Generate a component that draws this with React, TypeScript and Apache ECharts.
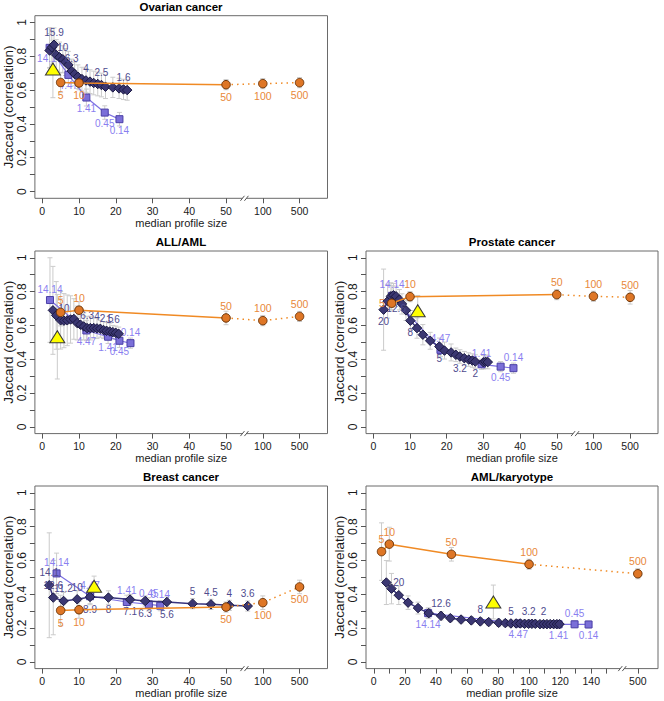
import React, { useEffect, useRef } from "react";
import * as echarts from "echarts";

const FONT = "'Liberation Sans', Arial, Helvetica, sans-serif";

// ---------- shared ----------
const orangeSizes = [5, 10, 50, 100, 500];
const orangeLabels = ["5", "10", "50", "100", "500"];
const yTicks = [0, 0.1, 0.2, 0.3, 0.4, 0.5, 0.6, 0.7, 0.8, 0.9, 1];
const yTickLabels = [0, 0.2, 0.4, 0.6, 0.8, 1];
const xTicksA = [0, 10, 20, 30, 40, 50, 60, 70];
const xTickTextA = ["0", "10", "20", "30", "40", "50", "100", "500"];
const xTicksB = [0, 10, 20, 30, 40, 50, 60, 70, 80, 90, 100, 110, 120, 130, 140, 150, 170];
const xLabelsB = [0, 20, 40, 60, 80, 100, 120, 140, 170];
const xTickTextB = ["0", "20", "40", "60", "80", "100", "120", "140", "500"];

// ---------- Ovarian cancer ----------
const ovDiamondX = [2.0, 2.6, 3.2, 3.8, 4.7, 5.6, 6.3, 7.1, 8.0, 8.8, 9.7, 10.8, 11.9, 13.0, 14.0, 15.1, 16.1, 17.2, 19.2, 20.9, 22.1, 23.1];
const ovDiamondY = [0.834, 0.853, 0.868, 0.808, 0.794, 0.782, 0.766, 0.749, 0.713, 0.695, 0.679, 0.665, 0.657, 0.65, 0.642, 0.636, 0.63, 0.62, 0.616, 0.61, 0.604, 0.6];
const ovDiamondErr = [0.1, 0.1, 0.1, 0.09, 0.09, 0.08, 0.08, 0.08, 0.07, 0.07, 0.07, 0.07, 0.07, 0.07, 0.07, 0.07, 0.07, 0.07, 0.06, 0.06, 0.06, 0.06];
const ovDiamondLab = ["", "", "15.9", "", "", "10", "", "", "6.3", "", "", "", "4", "", "", "", "2.5", "", "", "", "1.6", ""];
const ovDiamondPos = "tttttttttttttttttttttt";
const ovSquareX = [2.0, 7.1, 12.0, 17.0, 21.0];
const ovSquareY = [0.85, 0.69, 0.556, 0.467, 0.428];
const ovSquareErr = [0.12, 0.07, 0.05, 0.04, 0.04];
const ovSquareLab = ["14.14", "4.47", "1.41", "0.45", "0.14"];
const ovSquarePos = "bbbbb";
const ovOrangeY = [0.645, 0.642, 0.632, 0.638, 0.644];
const ovOrangeErr = [0.06, 0.04, 0.03, 0.03, 0.03];
const ovOrangePos = "bbbbb";
const ovTriangle = [2.9, 0.725, 0.17];

// ---------- ALL/AML ----------
const allDiamondX = [2.9, 3.8, 5.0, 5.9, 6.8, 7.7, 8.6, 9.5, 10.4, 11.3, 12.2, 13.1, 14.0, 14.9, 15.8, 16.7, 17.5, 18.4, 19.2, 20.0, 20.8];
const allDiamondY = [0.689, 0.659, 0.63, 0.628, 0.63, 0.635, 0.638, 0.614, 0.604, 0.594, 0.584, 0.584, 0.584, 0.582, 0.58, 0.572, 0.568, 0.564, 0.56, 0.556, 0.55];
const allDiamondErr = [0.26, 0.2, 0.17, 0.16, 0.15, 0.14, 0.12, 0.1, 0.09, 0.08, 0.07, 0.07, 0.06, 0.06, 0.05, 0.05, 0.05, 0.05, 0.04, 0.04, 0.04];
const allDiamondLab = ["", "", "", "10", "", "", "", "", "", "", "6.3", "", "", "4", "", "", "2.5", "", "1.6", "", ""];
const allDiamondPos = "ttttttttttttttttttttt";
const allSquareX = [2.1, 12.0, 17.9, 21.0, 24.0];
const allSquareY = [0.75, 0.57, 0.533, 0.509, 0.495];
const allSquareErr = [0.25, 0.06, 0.04, 0.04, 0.03];
const allSquareLab = ["14.14", "4.47", "1.41", "0.45", "0.14"];
const allSquarePos = "tbbbt";
const allOrangeY = [0.677, 0.69, 0.644, 0.628, 0.653];
const allOrangeErr = [0.08, 0.05, 0.04, 0.03, 0.03];
const allOrangePos = "ttttt";
const allTriangle = [4.1, 0.533, 0.25];

// ---------- Prostate cancer ----------
const proDiamondX = [2.8, 3.9, 4.8, 5.5, 6.2, 7.1, 7.8, 8.9, 10.1, 11.9, 13.5, 15.5, 18.0, 19.4, 21.2, 22.5, 23.6, 24.8, 26.0, 27.0, 27.8, 30.0, 30.6, 31.2];
const proDiamondY = [0.693, 0.743, 0.772, 0.778, 0.772, 0.752, 0.727, 0.689, 0.628, 0.584, 0.545, 0.509, 0.475, 0.451, 0.44, 0.426, 0.416, 0.406, 0.398, 0.392, 0.386, 0.382, 0.385, 0.383];
const proDiamondErr = [0.24, 0.1, 0.08, 0.07, 0.06, 0.06, 0.06, 0.06, 0.06, 0.06, 0.06, 0.05, 0.05, 0.05, 0.05, 0.04, 0.04, 0.04, 0.04, 0.04, 0.04, 0.04, 0.04, 0.04];
const proDiamondLab = ["20", "", "", "", "12.6", "", "", "", "8", "", "", "", "5", "", "", "", "3.2", "", "", "", "2", "", "", ""];
const proDiamondPos = "bbbbbbbbbbbbbbbbbbbbbbbb";
const proSquareX = [5.1, 18.3, 29.5, 34.7, 38.2];
const proSquareY = [0.775, 0.455, 0.37, 0.356, 0.347];
const proSquareErr = [0.06, 0.04, 0.03, 0.03, 0.03];
const proSquareLab = ["14.14", "4.47", "1.41", "0.45", "0.14"];
const proSquarePos = "tttbt";
const proOrangeY = [0.731, 0.77, 0.782, 0.772, 0.766];
const proOrangeErr = [0.04, 0.03, 0.03, 0.03, 0.04];
const proOrangePos = "ltttt";
const proTriangle = [12.1, 0.687, 0.09];

// ---------- Breast cancer ----------
const brDiamondX = [1.9, 3.0, 5.8, 9.5, 13.0, 18.0, 23.9, 28.0, 33.9, 40.9, 45.9, 50.9, 55.9];
const brDiamondY = [0.453, 0.38, 0.36, 0.37, 0.384, 0.38, 0.368, 0.36, 0.354, 0.344, 0.34, 0.334, 0.33];
const brDiamondErr = [0.31, 0.22, 0.05, 0.05, 0.04, 0.04, 0.03, 0.03, 0.03, 0.03, 0.03, 0.03, 0.03];
const brDiamondLab = ["14.1", "12.6", "11.2", "10", "8.9", "8", "7.1", "6.3", "5.6", "5", "4.5", "4", "3.6"];
const brDiamondPos = "ttttbbbbbtttt";
const brSquareX = [3.9, 13.0, 23.0, 29.0, 32.1];
const brSquareY = [0.523, 0.388, 0.354, 0.34, 0.332];
const brSquareErr = [0.12, 0.05, 0.04, 0.04, 0.03];
const brSquareLab = ["14.14", "4.47", "1.41", "0.45", "0.14"];
const brSquarePos = "ttttt";
const brOrangeY = [0.304, 0.308, 0.324, 0.35, 0.443];
const brOrangeErr = [0.09, 0.05, 0.03, 0.04, 0.04];
const brOrangePos = "bbbbb";
const brTriangle = [14.1, 0.447, 0.06];

// ---------- AML/karyotype ----------
const karDiamondX = [8.1, 11.4, 16.1, 22.1, 28.5, 35.4, 43.3, 49.3, 56.2, 62.8, 68.6, 74.0, 80.4, 84.7, 88.3, 91.7, 94.3, 97.1, 99.7, 101.8, 104.0, 107.0, 109.3, 111.5, 113.6, 115.8, 117.9, 119.6];
const karDiamondY = [0.469, 0.433, 0.394, 0.35, 0.318, 0.288, 0.272, 0.258, 0.25, 0.245, 0.239, 0.235, 0.231, 0.229, 0.227, 0.227, 0.227, 0.225, 0.225, 0.225, 0.225, 0.223, 0.223, 0.223, 0.223, 0.223, 0.223, 0.223];
const karDiamondErr = [0.13, 0.09, 0.055, 0.04, 0.035, 0.03, 0.025, 0.02, 0.02, 0.02, 0.02, 0.02, 0.02, 0.02, 0.02, 0.02, 0.02, 0.02, 0.02, 0.02, 0.02, 0.02, 0.02, 0.02, 0.02, 0.02, 0.02, 0.02];
const karDiamondLab = ["", "", "20", "", "", "", "12.6", "", "", "", "8", "", "", "", "5", "", "", "", "3.2", "", "", "", "2", "", "", "", "", ""];
const karDiamondPos = "tttttttttttttttttttttttttttt";
const karSquareX = [35.0, 93.0, 119.0, 129.3, 138.3];
const karSquareY = [0.288, 0.227, 0.222, 0.222, 0.221];
const karSquareErr = [0.03, 0.02, 0.02, 0.02, 0.02];
const karSquareLab = ["14.14", "4.47", "1.41", "0.45", "0.14"];
const karSquarePos = "bbbtb";
const karOrangeY = [0.652, 0.696, 0.636, 0.577, 0.521];
const karOrangeErr = [0.17, 0.1, 0.04, 0.03, 0.03];
const karOrangePos = "ttttt";
const karTriangle = [77.0, 0.354, 0.1];

// ---------- layout ----------
const COLS = [
  { left: 34.5, width: 293 },
  { left: 366, width: 292 },
];
const ROWS = [15.7, 251, 486];
const H = 182.6;

// broken-axis scales: linear part, then compressed segment after the break
const posA = (v: number) => (v <= 57 ? v : v <= 100 ? 57 + ((v - 57) * 3) / 43 : 60 + (v - 100) / 40);
const posB = (v: number) => (v <= 150 ? v : 150 + (v - 150) / 17.5);

const POS: Record<string, string> = { t: "top", b: "bottom", l: "left", r: "right" };

const C = {
  grid: "#6a6a6a",
  tick: "#555",
  err: "#cbcbcb",
  sqFill: "#7b6fd8",
  sqBorder: "#4a3fa6",
  sqLine: "#7d70e2",
  sqLab: "#8a7ff0",
  diFill: "#3b3772",
  diBorder: "#1c1a44",
  diLine: "#39347e",
  diLab: "#4f4b8e",
  orFill: "#de7626",
  orBorder: "#6e3507",
  orLine: "#f08a24",
  orLab: "#e8883a",
};

type Panel = {
  title: string;
  col: number;
  row: number;
  kind: "A" | "B";
  dX: number[]; dY: number[]; dE: number[]; dL: string[]; dP: string;
  sX: number[]; sY: number[]; sE: number[]; sL: string[]; sP: string;
  oY: number[]; oE: number[]; oP: string; solidEnd: number;
  tri: number[];
};

const panels: Panel[] = [
  { title: "Ovarian cancer", col: 0, row: 0, kind: "A",
    dX: ovDiamondX, dY: ovDiamondY, dE: ovDiamondErr, dL: ovDiamondLab, dP: ovDiamondPos,
    sX: ovSquareX, sY: ovSquareY, sE: ovSquareErr, sL: ovSquareLab, sP: ovSquarePos,
    oY: ovOrangeY, oE: ovOrangeErr, oP: ovOrangePos, solidEnd: 2, tri: ovTriangle },
  { title: "ALL/AML", col: 0, row: 1, kind: "A",
    dX: allDiamondX, dY: allDiamondY, dE: allDiamondErr, dL: allDiamondLab, dP: allDiamondPos,
    sX: allSquareX, sY: allSquareY, sE: allSquareErr, sL: allSquareLab, sP: allSquarePos,
    oY: allOrangeY, oE: allOrangeErr, oP: allOrangePos, solidEnd: 2, tri: allTriangle },
  { title: "Prostate cancer", col: 1, row: 1, kind: "A",
    dX: proDiamondX, dY: proDiamondY, dE: proDiamondErr, dL: proDiamondLab, dP: proDiamondPos,
    sX: proSquareX, sY: proSquareY, sE: proSquareErr, sL: proSquareLab, sP: proSquarePos,
    oY: proOrangeY, oE: proOrangeErr, oP: proOrangePos, solidEnd: 2, tri: proTriangle },
  { title: "Breast cancer", col: 0, row: 2, kind: "A",
    dX: brDiamondX, dY: brDiamondY, dE: brDiamondErr, dL: brDiamondLab, dP: brDiamondPos,
    sX: brSquareX, sY: brSquareY, sE: brSquareErr, sL: brSquareLab, sP: brSquarePos,
    oY: brOrangeY, oE: brOrangeErr, oP: brOrangePos, solidEnd: 2, tri: brTriangle },
  { title: "AML/karyotype", col: 1, row: 2, kind: "B",
    dX: karDiamondX, dY: karDiamondY, dE: karDiamondErr, dL: karDiamondLab, dP: karDiamondPos,
    sX: karSquareX, sY: karSquareY, sE: karSquareErr, sL: karSquareLab, sP: karSquarePos,
    oY: karOrangeY, oE: karOrangeErr, oP: karOrangePos, solidEnd: 3, tri: karTriangle },
];

const errRender = (_p: any, api: any) => {
  const x = api.value(0);
  const a = api.coord([x, api.value(1)]);
  const b = api.coord([x, api.value(2)]);
  const c = 2.5;
  const st = { stroke: C.err, lineWidth: 1 };
  return {
    type: "group",
    children: [
      { type: "line", shape: { x1: a[0], y1: a[1], x2: b[0], y2: b[1] }, style: st },
      { type: "line", shape: { x1: a[0] - c, y1: a[1], x2: a[0] + c, y2: a[1] }, style: st },
      { type: "line", shape: { x1: b[0] - c, y1: b[1], x2: b[0] + c, y2: b[1] }, style: st },
    ],
  };
};

const breakRender = (_p: any, api: any) => {
  const p = api.coord([api.value(0), api.value(1)]);
  const cx = p[0];
  const cy = p[1];
  const st = { stroke: "#555", lineWidth: 1 };
  return {
    type: "group",
    children: [
      { type: "polygon", shape: { points: [[cx - 4, cy + 2.5], [cx, cy - 2.5], [cx + 4, cy - 2.5], [cx, cy + 2.5]] }, style: { fill: "#fff" } },
      { type: "line", shape: { x1: cx - 4, y1: cy + 2.5, x2: cx, y2: cy - 2.5 }, style: st },
      { type: "line", shape: { x1: cx, y1: cy + 2.5, x2: cx + 4, y2: cy - 2.5 }, style: st },
    ],
  };
};

function buildOption() {
  const grid: any[] = [];
  const xAxis: any[] = [];
  const yAxis: any[] = [];
  const series: any[] = [];
  const graphic: any[] = [];

  panels.forEach((p, i) => {
    const col = COLS[p.col];
    const top = ROWS[p.row];
    const pos = p.kind === "A" ? posA : posB;
    grid.push({ left: col.left, top, width: col.width, height: H, show: true, borderColor: C.grid, borderWidth: 1, backgroundColor: "transparent", containLabel: false });

    const isA = p.kind === "A";
    xAxis.push({
      gridIndex: i,
      type: "value",
      min: isA ? -2 : -5,
      max: isA ? 77.6 : 183,
      axisLine: { show: false, onZero: false },
      splitLine: { show: false },
      axisTick: { show: true, inside: false, length: 5, lineStyle: { color: C.tick }, customValues: isA ? xTicksA : xTicksB },
      axisLabel: {
        show: true, margin: 7, color: "#1a1a1a", fontSize: 10.5, fontFamily: FONT,
        customValues: isA ? xTicksA : xLabelsB,
        formatter: (v: number) => {
          const ticks = isA ? xTicksA : xLabelsB;
          const txt = isA ? xTickTextA : xTickTextB;
          const k = ticks.indexOf(v);
          return k >= 0 ? txt[k] : String(v);
        },
      },
      name: "median profile size",
      nameLocation: "middle",
      nameGap: 17,
      nameTextStyle: { fontSize: 11, fontFamily: FONT, color: "#1a1a1a", verticalAlign: "top" },
    });
    yAxis.push({
      gridIndex: i,
      type: "value",
      min: -0.04,
      max: 1.04,
      axisLine: { show: false, onZero: false },
      splitLine: { show: false },
      axisTick: { show: true, inside: false, length: 5, lineStyle: { color: C.tick }, customValues: yTicks },
      axisLabel: {
        show: true, rotate: 90, margin: 7, color: "#1a1a1a", fontSize: 12, fontFamily: FONT,
        customValues: yTickLabels,
        formatter: (v: number) => String(v),
      },
      name: "Jaccard (correlation)",
      nameLocation: "middle",
      nameGap: p.col === 0 ? 17 : 16,
      nameTextStyle: { fontSize: 13.5, fontFamily: FONT, color: "#1a1a1a" },
    });

    graphic.push({
      type: "text",
      x: col.left + col.width / 2,
      y: top - 8.7,
      style: {
        text: p.title,
        font: `bold 11.5px ${FONT}`,
        fill: "#000",
        textAlign: "center",
        align: "center",
        textVerticalAlign: "middle",
        verticalAlign: "middle",
      },
    });

    const ax = { xAxisIndex: i, yAxisIndex: i };
    const errData: number[][] = [];
    p.sX.forEach((x, k) => errData.push([pos(x), p.sY[k] - p.sE[k], p.sY[k] + p.sE[k]]));
    p.dX.forEach((x, k) => errData.push([pos(x), p.dY[k] - p.dE[k], p.dY[k] + p.dE[k]]));
    orangeSizes.forEach((x, k) => errData.push([pos(x), p.oY[k] - p.oE[k], p.oY[k] + p.oE[k]]));
    errData.push([pos(p.tri[0]), p.tri[1] - p.tri[2], p.tri[1] + p.tri[2]]);

    series.push({ type: "custom", ...ax, data: errData, renderItem: errRender, encode: { x: 0, y: [1, 2] }, z: 1, silent: true });

    const labelBase = (color: string) => ({ show: true, formatter: "{b}", color, fontSize: 10, fontFamily: FONT, distance: 2 });

    series.push({
      type: "line", ...ax, z: 2,
      data: p.sX.map((x, k) => ({ name: p.sL[k], value: [pos(x), p.sY[k]], label: { position: POS[p.sP[k]] } })),
      symbol: "rect", symbolSize: 7, showSymbol: true, showAllSymbol: true,
      itemStyle: { color: C.sqFill, borderColor: C.sqBorder, borderWidth: 1 },
      lineStyle: { color: C.sqLine, width: 1.2 },
      label: labelBase(C.sqLab),
      emphasis: { disabled: true },
    });
    series.push({
      type: "line", ...ax, z: 3,
      data: p.dX.map((x, k) => ({ name: p.dL[k], value: [pos(x), p.dY[k]], label: { position: POS[p.dP[k]] } })),
      symbol: "diamond", symbolSize: 9.5, showSymbol: true, showAllSymbol: true,
      itemStyle: { color: C.diFill, borderColor: C.diBorder, borderWidth: 1 },
      lineStyle: { color: C.diLine, width: 1.5 },
      label: labelBase(C.diLab),
      emphasis: { disabled: true },
    });
    series.push({
      type: "line", ...ax, z: 4, symbol: "none",
      data: orangeSizes.slice(0, p.solidEnd + 1).map((x, k) => [pos(x), p.oY[k]]),
      lineStyle: { color: C.orLine, width: 1.5 },
      emphasis: { disabled: true },
    });
    series.push({
      type: "line", ...ax, z: 4, symbol: "none",
      data: orangeSizes.slice(p.solidEnd).map((x, k) => [pos(x), p.oY[k + p.solidEnd]]),
      lineStyle: { color: C.orLine, width: 1.5, type: [1.5, 4] },
      emphasis: { disabled: true },
    });
    series.push({
      type: "scatter", ...ax, z: 5,
      data: orangeSizes.map((x, k) => ({ name: orangeLabels[k], value: [pos(x), p.oY[k]], label: { position: POS[p.oP[k]] } })),
      symbol: "circle", symbolSize: 8.5,
      itemStyle: { color: C.orFill, borderColor: C.orBorder, borderWidth: 1, opacity: 1 },
      label: { ...labelBase(C.orLab), fontSize: 10.5 },
      emphasis: { disabled: true },
    });
    series.push({
      type: "scatter", ...ax, z: 6,
      data: [[pos(p.tri[0]), p.tri[1]]],
      symbol: "triangle", symbolSize: [15, 12],
      itemStyle: { color: "#ffff00", borderColor: "#3a3a3a", borderWidth: 1, opacity: 1 },
      emphasis: { disabled: true },
    });
    series.push({
      type: "custom", ...ax, z: 7, silent: true,
      data: [[isA ? 55 : 160, -0.04]],
      renderItem: breakRender,
      encode: { x: 0, y: 1 },
    });
  });

  return { animation: false, grid, xAxis, yAxis, series, graphic };
}

export default function App() {
  const ref = useRef<HTMLDivElement | null>(null);
  useEffect(() => {
    if (!ref.current) return;
    const chart = echarts.init(ref.current, undefined, { renderer: "svg" });
    chart.setOption(buildOption() as any);
    return () => chart.dispose();
  }, []);
  return (
    <div
      ref={ref}
      style={{ position: "absolute", left: 0, top: 0, width: 664, height: 701, background: "#fff" }}
    />
  );
}
